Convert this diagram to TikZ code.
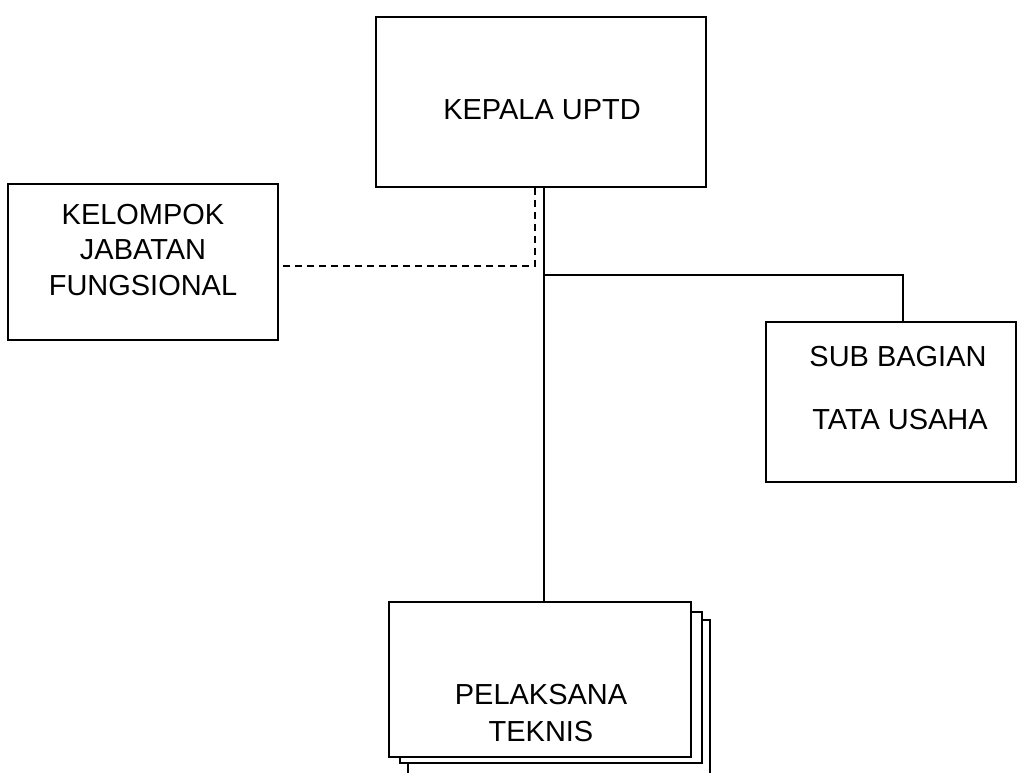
\documentclass[tikz,border=0pt]{standalone}
\usepackage{fontspec}
\setmainfont{Liberation Sans}
\usetikzlibrary{positioning}
\begin{document}
\begin{tikzpicture}[x=0.025cm,y=-0.025cm,
        box/.style={draw,line width=1.6pt,fill=white,inner sep=0pt},
        link/.style={line width=1.6pt},
        dashlink/.style={line width=1.6pt,dash pattern=on 5pt off 3.5pt},
        lbl/.style={font=\fontsize{20.6}{25}\selectfont,align=center},
        ]
        \useasboundingbox (0,0) rectangle (1021,772);

        % boxes
        \node[box,minimum width=8.25cm,minimum height=4.25cm] (kepala) at (541,102) {};
        \node[box,minimum width=6.75cm,minimum height=3.9cm] (kelompok) at (143,262) {};
        \node[box,minimum width=6.25cm,minimum height=4cm] (sub) at (891,402) {};
        \node[box,minimum width=7.55cm,minimum height=4cm] (pelback) at (559,700) {};
        \node[box,minimum width=7.55cm,minimum height=3.775cm] (pelmid) at (551,687.5) {};
        \node[box,minimum width=7.55cm,minimum height=3.875cm] (pel) at (540,679.5) {};

        % texts
        \node[lbl] (kepalatext) at (542,110) {KEPALA UPTD};
        \node[lbl] (kelompoktext) at (143,250) {KELOMPOK\\JABATAN\\FUNGSIONAL};
        \node[lbl] (subtext1) at (898,357) {SUB BAGIAN};
        \node[lbl] (subtext2) at (900,420) {TATA USAHA};
        \node[lbl,font=\fontsize{20.6}{26.5}\selectfont] (peltext) at (541,713) {PELAKSANA\\TEKNIS};

        % connectors
        \coordinate (trunk) at (544,275);
        \coordinate (subtop) at (903,275);
        \coordinate (dashcorner) at (535,266);
        \draw[link] (trunk |- kepala.south) -- (trunk |- pel.north);
        \draw[link] (trunk) -- (subtop) -- (subtop |- sub.north);
        \draw[dashlink] (dashcorner |- kepala.south) -- (dashcorner) -- (kelompok.east |- dashcorner);
\end{tikzpicture}
\end{document}
